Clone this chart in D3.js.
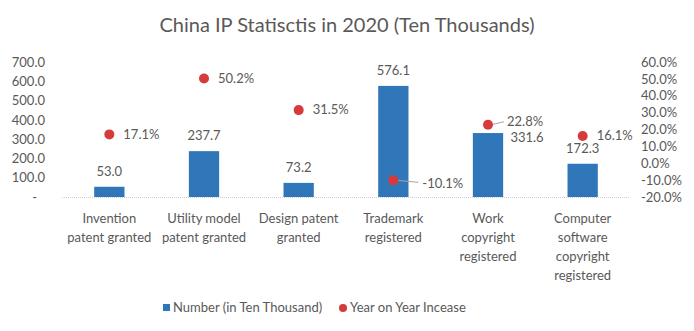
<!DOCTYPE html>
<html>
<head>
<meta charset="utf-8">
<script src="https://cdn.jsdelivr.net/npm/d3@7"></script>
<style>
  body { margin: 0; background: #fff; }
  text { font-family: Lato, "Noto Sans", sans-serif; fill: #595959; }
</style>
</head>
<body>
<svg id="svg_chart"></svg>
<script>
let chartWidth = 694;
let chartHeight = 331;

// data
let categories = [
    ["Invention", "patent granted"],
    ["Utility model", "patent granted"],
    ["Design patent", "granted"],
    ["Trademark", "registered"],
    ["Work", "copyright", "registered"],
    ["Computer", "software", "copyright", "registered"]
];
let numbers = [53.0, 237.7, 73.2, 576.1, 331.6, 172.3];
let growth = [17.1, 50.2, 31.5, -10.1, 22.8, 16.1];
let leftTicks = [0, 100, 200, 300, 400, 500, 600, 700];
let rightTicks = [-20, -10, 0, 10, 20, 30, 40, 50, 60];

// label nudges (excel moved a few of them by hand)
let numLabelShift = [[0, 0], [0, 0], [0, 0], [0, 0], [39, 20], [0, 0]];
let pctLeader = [false, false, false, true, true, false];

let barColor = "#3077B9";
let dotColor = "#D63A3A";

let svg = d3.select("#svg_chart")
    .attr("width", chartWidth)
    .attr("height", chartHeight);

let plotLeft = 62, plotRight = 630, plotTop = 62, plotBottom = 197;

let x = d3.scaleBand()
    .domain(d3.range(categories.length))
    .range([plotLeft, plotRight]);

let yLeft = d3.scaleLinear().domain([0, 700]).range([plotBottom, plotTop]);
let yRight = d3.scaleLinear().domain([-20, 60]).range([plotBottom, plotTop]);

let barW = x.bandwidth() * 0.32;
let cx = i => x(i) + x.bandwidth() / 2;

// title
svg.append("text")
    .attr("x", 347)
    .attr("y", 32)
    .attr("text-anchor", "middle")
    .style("font-size", "20px")
    .text("China IP Statisctis in 2020 (Ten Thousands)");

// left axis
let gl = svg.append("g")
    .attr("transform", "translate(" + 45 + ",0)")
    .call(d3.axisLeft(yLeft).tickValues(leftTicks).tickSize(0)
        .tickFormat(d => d === 0 ? "-" : d.toFixed(1)));
gl.select(".domain").remove();
gl.selectAll("text")
    .attr("x", d => d === 0 ? -8 : 0)
    .style("font-size", "13px")
    .style("font-family", null);

// right axis
let gr = svg.append("g")
    .attr("transform", "translate(" + 641 + ",0)")
    .call(d3.axisRight(yRight).tickValues(rightTicks).tickSize(0)
        .tickFormat(d => d.toFixed(1) + "%"));
gr.select(".domain").remove();
gr.selectAll("text")
    .attr("x", 0)
    .style("font-size", "13px")
    .style("font-family", null);

// baseline
svg.append("line")
    .attr("x1", plotLeft).attr("x2", plotRight)
    .attr("y1", yLeft(0) + 0.5).attr("y2", yLeft(0) + 0.5)
    .attr("stroke", "#D0D0D0")
    .attr("stroke-dasharray", "1,1");

// bars
svg.append("g")
    .selectAll("rect")
    .data(numbers)
    .enter().append("rect")
    .attr("x", (d, i) => cx(i) - barW / 2)
    .attr("y", d => yLeft(d))
    .attr("width", barW)
    .attr("height", d => yLeft(0) - yLeft(d))
    .attr("fill", barColor);

// bar labels
svg.append("g")
    .selectAll("text")
    .data(numbers)
    .enter().append("text")
    .attr("x", (d, i) => cx(i) + numLabelShift[i][0])
    .attr("y", (d, i) => yLeft(d) - 11 + numLabelShift[i][1])
    .attr("text-anchor", "middle")
    .style("font-size", "13px")
    .text(d => d.toFixed(1));

// leader lines
svg.append("g")
    .selectAll("line")
    .data(growth)
    .enter().filter((d, i) => pctLeader[i]).append("line")
    .attr("x1", function (d) { return cx(growth.indexOf(d)) + 3; })
    .attr("y1", d => yRight(d))
    .attr("x2", function (d) { return cx(growth.indexOf(d)) + (d < 0 ? 25 : 16); })
    .attr("y2", d => yRight(d) + (d < 0 ? 2 : -3))
    .attr("stroke", "#A6A6A6")
    .attr("stroke-width", 1);

// growth dots
svg.append("g")
    .selectAll("circle")
    .data(growth)
    .enter().append("circle")
    .attr("cx", (d, i) => cx(i))
    .attr("cy", d => yRight(d))
    .attr("r", 5)
    .attr("fill", dotColor);

// growth labels
svg.append("g")
    .selectAll("text")
    .data(growth)
    .enter().append("text")
    .attr("x", (d, i) => cx(i) + (pctLeader[i] ? (d < 0 ? 29 : 19) : 14))
    .attr("y", (d, i) => yRight(d) + (pctLeader[i] ? (d < 0 ? 4 : -3) : 0))
    .attr("dy", "0.32em")
    .style("font-size", "13px")
    .text(d => d.toFixed(1) + "%");

// category labels
let cat = svg.append("g")
    .selectAll("text")
    .data(categories)
    .enter().append("text")
    .attr("x", (d, i) => cx(i))
    .attr("text-anchor", "middle")
    .style("font-size", "13px");
cat.selectAll("tspan")
    .data(d => d)
    .enter().append("tspan")
    .attr("x", function () { return d3.select(this.parentNode).attr("x"); })
    .attr("y", (d, j) => 223 + j * 19)
    .text(d => d);

// legend
let legend = svg.append("g");
legend.append("rect")
    .attr("x", 163).attr("y", 304)
    .attr("width", 7).attr("height", 7)
    .attr("fill", barColor);
legend.append("text")
    .attr("x", 173).attr("y", 312)
    .style("font-size", "13px")
    .text("Number (in Ten Thousand)");
legend.append("circle")
    .attr("cx", 343).attr("cy", 308)
    .attr("r", 4)
    .attr("fill", dotColor);
legend.append("text")
    .attr("x", 350).attr("y", 312)
    .style("font-size", "13px")
    .text("Year on Year Incease");
</script>
</body>
</html>
